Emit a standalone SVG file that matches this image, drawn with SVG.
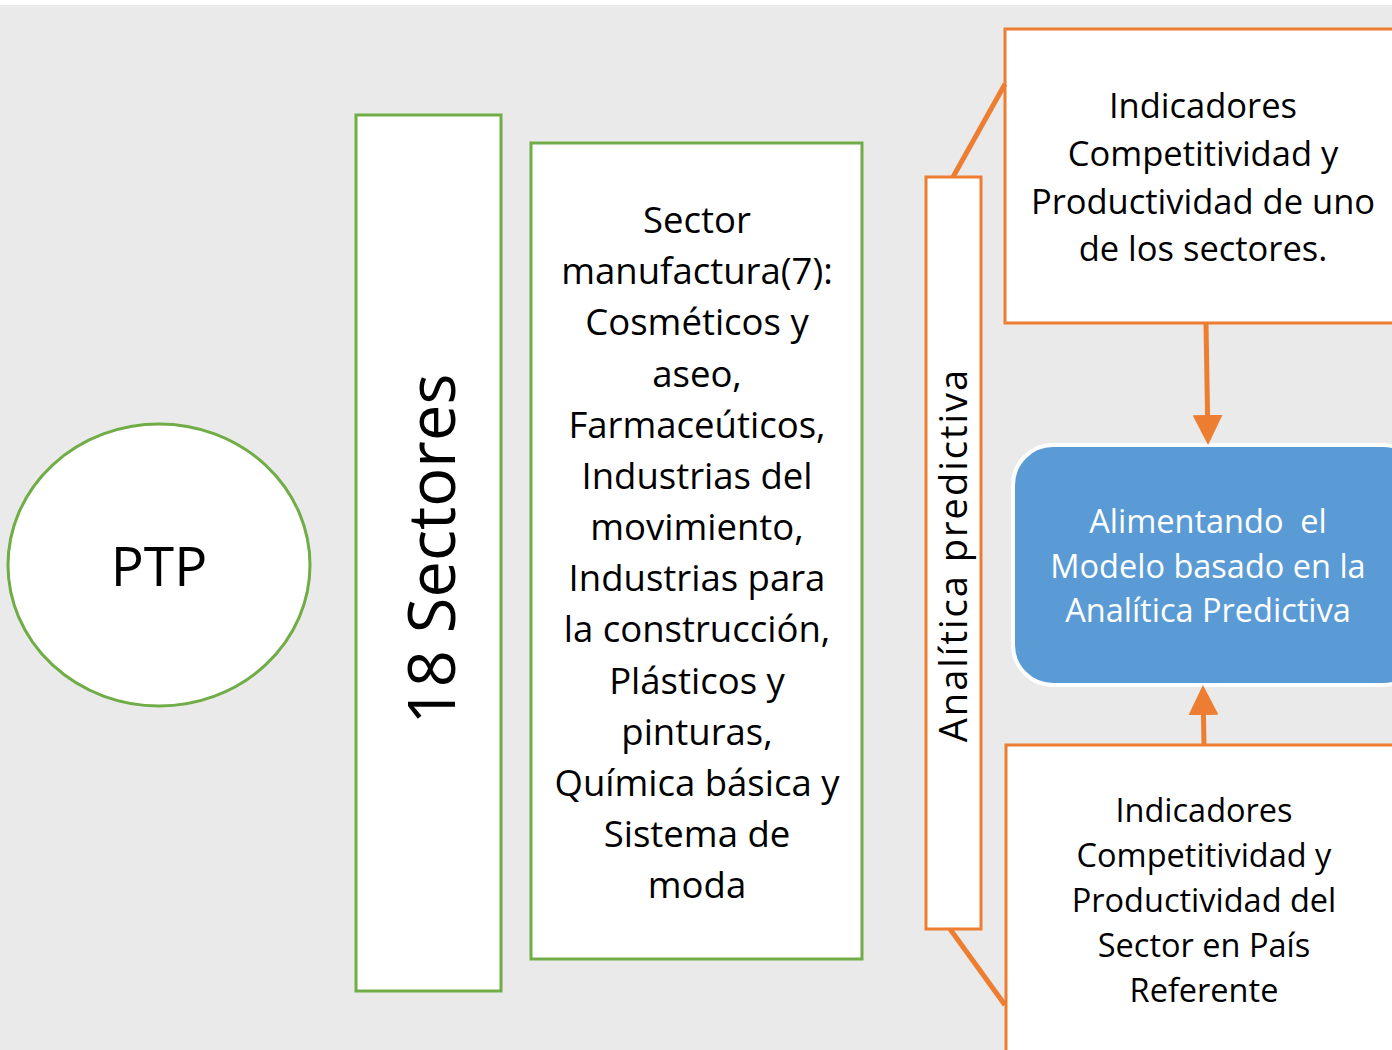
<svg xmlns="http://www.w3.org/2000/svg" width="1392" height="1050" viewBox="0 0 1392 1050">
<defs>
<style>
.t{font-family:"Open Sans","Liberation Sans",sans-serif;fill:#000;text-anchor:middle}
.w{fill:#fff}
.g{fill:#fff;stroke:#70ad47;stroke-width:3}
.o{fill:#fff;stroke:#ed7d31;stroke-width:3}
.c{stroke:#ed7d31;stroke-width:5;fill:none}
</style>
<marker id="ah" markerWidth="6" markerHeight="6" refX="5" refY="3" orient="auto" markerUnits="strokeWidth">
<path d="M0,0 L6,3 L0,6 Z" fill="#ed7d31"/>
</marker>
</defs>
<rect x="0" y="0" width="1392" height="1050" fill="#eaeaea"/>
<rect x="0" y="0" width="1392" height="5" fill="#fff"/>
<g id="ptp">
<ellipse class="g" cx="159" cy="565" rx="151" ry="141" stroke-width="2.5"/>
<text class="t" x="159" y="586" font-size="55">PTP</text>
</g>
<g id="sectores18">
<rect class="g" x="356" y="115" width="145" height="876"/>
<text class="t" transform="translate(455,549) rotate(-90)" font-size="65">18 Sectores</text>
</g>
<g id="manufactura">
<rect class="g" x="531" y="143" width="331" height="816"/>
<g class="t" font-size="36.5">
<text x="697" y="233">Sector</text>
<text x="697" y="284">manufactura(7):</text>
<text x="697" y="335">Cosméticos y</text>
<text x="697" y="387">aseo,</text>
<text x="697" y="438">Farmaceúticos,</text>
<text x="697" y="489">Industrias del</text>
<text x="697" y="540">movimiento,</text>
<text x="697" y="591">Industrias para</text>
<text x="697" y="642">la construcción,</text>
<text x="697" y="694">Plásticos y</text>
<text x="697" y="745">pinturas,</text>
<text x="697" y="796">Química básica y</text>
<text x="697" y="847">Sistema de</text>
<text x="697" y="898">moda</text>
</g>
</g>
<g id="analitica">
<rect class="o" x="926" y="177" width="55" height="752"/>
<text class="t" transform="translate(967,555) rotate(-90)" font-size="38" letter-spacing="2">Analítica predictiva</text>
</g>
<g id="indicadores-sector">
<rect class="o" x="1005" y="29" width="400" height="294"/>
<g class="t" font-size="34.5">
<text x="1203" y="118">Indicadores</text>
<text x="1203" y="166">Competitividad y</text>
<text x="1203" y="214">Productividad de uno</text>
<text x="1203" y="261">de los sectores.</text>
</g>
</g>
<g id="modelo">
<rect x="1013" y="445" width="410" height="240" rx="40" fill="#5b9bd5" stroke="#fff" stroke-width="4"/>
<g class="t w" font-size="32.5">
<text x="1208" y="533" xml:space="preserve">Alimentando  el</text>
<text x="1208" y="578">Modelo basado en la</text>
<text x="1208" y="622">Analítica Predictiva</text>
</g>
</g>
<g id="indicadores-pais">
<rect class="o" x="1006" y="745" width="400" height="320"/>
<g class="t" font-size="32.5">
<text x="1204" y="822">Indicadores</text>
<text x="1204" y="867">Competitividad y</text>
<text x="1204" y="912">Productividad del</text>
<text x="1204" y="957">Sector en País</text>
<text x="1204" y="1002">Referente</text>
</g>
</g>
<g id="connectors">
<line class="c" x1="953" y1="177" x2="1005" y2="84"/>
<line class="c" x1="950" y1="929" x2="1005" y2="1005"/>
<line class="c" x1="1206" y1="324" x2="1208" y2="440" marker-end="url(#ah)"/>
<line class="c" x1="1204" y1="745" x2="1203" y2="690" marker-end="url(#ah)"/>
</g>
</svg>
